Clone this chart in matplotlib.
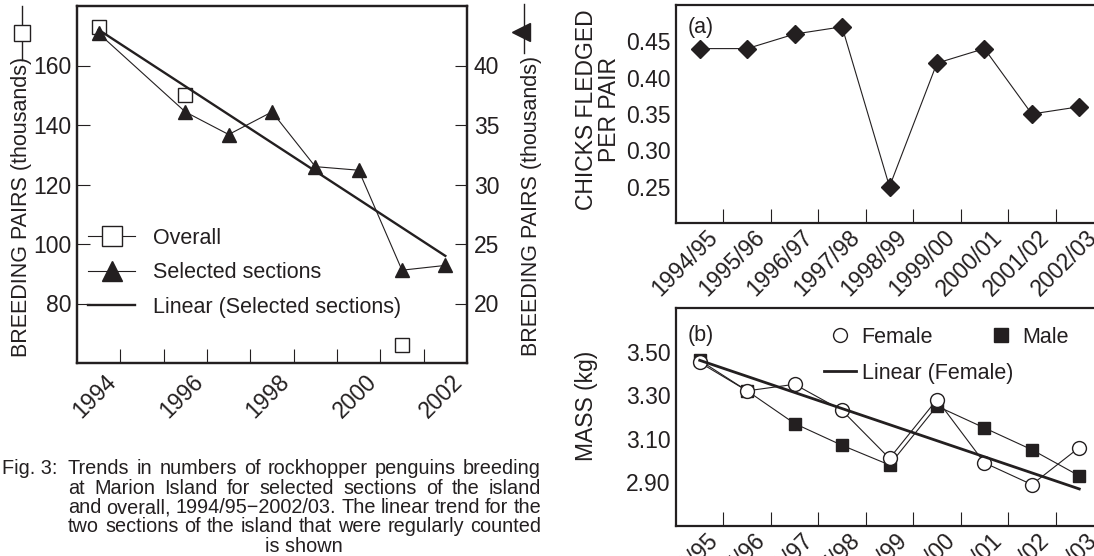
import numpy as np
import matplotlib
matplotlib.use('Agg')
import matplotlib.pyplot as plt
import matplotlib.transforms as mtransforms
from matplotlib.lines import Line2D

# Fonts - Liberation Sans is the closest thing to the Helvetica in the print
plt.rcParams['font.family'] = ['Liberation Sans', 'DejaVu Sans']
plt.rcParams['font.size'] = 16.5
ink = '#231f20'
plt.rcParams['text.color'] = ink
plt.rcParams['axes.edgecolor'] = ink
plt.rcParams['xtick.color'] = ink
plt.rcParams['ytick.color'] = ink

# Fig. 3 data (breeding pairs)
years = [1994, 1995, 1996, 1997, 1998, 1999, 2000, 2001, 2002]
year_labels = ['1994', '', '1996', '', '1998', '', '2000', '', '2002']
overall_years = [1994, 1996, 2001]
overall_pairs = [173, 150, 66]
selected_years = [1994, 1996, 1997, 1998, 1999, 2000, 2001, 2002]
selected_pairs = [42.7, 36.1, 34.2, 36.1, 31.5, 31.2, 22.8, 23.2]
selected_trend = [43.0, 24.0]

# (a) and (b) data
seasons = ['1994/95', '1995/96', '1996/97', '1997/98', '1998/99',
           '1999/00', '2000/01', '2001/02', '2002/03']
chicks = [0.44, 0.44, 0.46, 0.47, 0.25, 0.42, 0.44, 0.35, 0.36]
female_mass = [3.45, 3.32, 3.35, 3.23, 3.01, 3.28, 2.99, 2.89, 3.06]
male_mass = [3.46, 3.32, 3.17, 3.07, 2.98, 3.25, 3.15, 3.05, 2.93]
female_trend = [3.46, 2.87]

W, H = 1094, 556
fig = plt.figure(figsize=(W / 100, H / 100), dpi=100)


def box(x0, y_top, x1, y_bot):
    # pixel box -> figure fraction rect
    return [x0 / W, 1 - y_bot / H, (x1 - x0) / W, (y_bot - y_top) / H]


def shift_labels(ax, dx, dy=0):
    off = mtransforms.ScaledTranslation(dx / 100, dy / 100, fig.dpi_scale_trans)
    for lab in ax.get_xticklabels():
        lab.set_transform(lab.get_transform() + off)


# ---------------- left chart ----------------
ax = fig.add_axes(box(77, 6, 467, 363))
ax2 = ax.twinx()

h_over, = ax.plot(overall_years, overall_pairs, color=ink, lw=0.8, marker='s',
                  ms=10, mfc='white', mec=ink, mew=1.0, linestyle='none')
h_sel, = ax2.plot(selected_years, selected_pairs, color=ink, lw=0.8, marker='^',
                  ms=10, mfc=ink, mec=ink)
h_lin, = ax2.plot([selected_years[0], selected_years[-1]], selected_trend,
                  color=ink, lw=1.7)

ax.set_xlim(1993.5, 2002.5)
ax.set_ylim(60, 180)
ax2.set_ylim(15, 45)
ax.set_yticks([80, 100, 120, 140, 160])
ax2.set_yticks([20, 25, 30, 35, 40])
ax.set_xticks(years)
ax.set_xticklabels(year_labels, rotation=45, ha='right', rotation_mode='anchor')
ax.set_xticks([y + 0.5 for y in years[:-1]], minor=True)
ax.tick_params(axis='x', which='major', length=0, pad=5)
ax.tick_params(axis='x', which='minor', direction='in', length=10, width=0.8)
ax.tick_params(axis='y', direction='in', length=9, width=0.8, pad=4)
ax2.tick_params(axis='y', direction='in', length=9, width=0.8, pad=5)
for a in (ax, ax2):
    for s in a.spines.values():
        s.set_linewidth(1.6)
shift_labels(ax, 6)

# legend rows (the overall series has a connecting line in the key)
k_over = Line2D([], [], color=ink, lw=0.8, marker='s', ms=15, mfc='white', mec=ink)
k_sel = Line2D([], [], color=ink, lw=0.8, marker='^', ms=15, mfc=ink, mec=ink)
ax2.legend([k_over, k_sel, h_lin],
           ['Overall', 'Selected sections', 'Linear (Selected sections)'],
           loc='upper left', bbox_to_anchor=(88 / W, 1 - 228 / H),
           bbox_transform=fig.transFigure, frameon=False, handlelength=2.2,
           handletextpad=0.8, labelspacing=0.62, borderpad=0, borderaxespad=0,
           fontsize=15.5)

# axis titles with their little keys on top
fig.text(22 / W, 1 - 207 / H, 'BREEDING PAIRS (thousands)', rotation=90,
         ha='center', va='center', fontsize=15.5)
fig.add_artist(Line2D([22 / W, 22 / W], [1 - 6 / H, 1 - 60 / H], color=ink, lw=1.0))
fig.add_artist(Line2D([22 / W], [1 - 33 / H], marker='s', ms=11, mfc='white',
                      mec=ink, mew=1.0))
fig.text(531 / W, 1 - 206 / H, 'BREEDING PAIRS (thousands)', rotation=90,
         ha='center', va='center', fontsize=15.5)
fig.add_artist(Line2D([524 / W, 524 / W], [1 - 4 / H, 1 - 53 / H], color=ink, lw=1.0))
fig.add_artist(Line2D([521 / W], [1 - 32 / H], marker='<', ms=13, mfc=ink, mec=ink))

# caption, justified between x=68 and x=541 like the printed one
cap_lines = ['Trends in numbers of rockhopper penguins breeding',
             'at Marion Island for selected sections of the island',
             'and overall, 1994/95\u22122002/03. The linear trend for the',
             'two sections of the island that were regularly counted',
             'is shown']
cap_size = 14.3
fig.text(2 / W, 1 - 469 / H, 'Fig. 3:', ha='left', va='center', fontsize=cap_size)
renderer = fig.canvas.get_renderer()
for i, line in enumerate(cap_lines):
    y = 1 - (469 + 19.3 * i) / H
    if i == len(cap_lines) - 1:
        fig.text(304 / W, y, line, ha='center', va='center', fontsize=cap_size)
        continue
    words = [fig.text(0, y, w, ha='left', va='center', fontsize=cap_size)
             for w in line.split()]
    widths = [t.get_window_extent(renderer).width for t in words]
    gap = (541 - 68 - sum(widths)) / (len(words) - 1)
    x = 68
    for t, w in zip(words, widths):
        t.set_x(x / W)
        x += w + gap

# ---------------- (a) chicks fledged ----------------
xs = np.arange(len(seasons))
axa = fig.add_axes(box(676, 5, 1103, 223))
axa.plot(xs, chicks, color=ink, lw=0.8, marker='D', ms=9, mfc=ink, mec=ink)
axa.set_xlim(-0.5, 8.5)
axa.set_ylim(0.20, 0.50)
axa.set_yticks([0.25, 0.30, 0.35, 0.40, 0.45])
axa.set_yticklabels(['0.25', '0.30', '0.35', '0.40', '0.45'])
fig.text(688 / W, 1 - 28 / H, '(a)', ha='left', va='center', fontsize=15.5)
fig.text(598 / W, 1 - 110 / H, 'CHICKS FLEDGED\nPER PAIR', rotation=90,
         ha='center', va='center', multialignment='center', fontsize=16.5,
         linespacing=1.05)

# ---------------- (b) mass ----------------
axb = fig.add_axes(box(676, 308, 1103, 526))
axb.plot(xs, male_mass, color=ink, lw=0.8, marker='s', ms=9, mfc=ink, mec=ink)
axb.plot(xs, female_mass, color=ink, lw=0.8, marker='o', ms=10, mfc='white',
         mec=ink, mew=1.0)
axb.plot([xs[0], xs[-1]], female_trend, color=ink, lw=2.0)
axb.set_xlim(-0.5, 8.5)
axb.set_ylim(2.70, 3.70)
axb.set_yticks([2.90, 3.10, 3.30, 3.50])
axb.set_yticklabels(['2.90', '3.10', '3.30', '3.50'])
fig.text(688 / W, 1 - 336 / H, '(b)', ha='left', va='center', fontsize=15.5)
fig.text(586 / W, 1 - 406 / H, 'MASS (kg)', rotation=90, ha='center',
         va='center', fontsize=16.5)

k_f = Line2D([], [], linestyle='none', marker='o', ms=10, mfc='white', mec=ink)
k_m = Line2D([], [], linestyle='none', marker='s', ms=10, mfc=ink, mec=ink)
k_l = Line2D([], [], color=ink, lw=2.0)
leg_b = axb.legend([k_f, k_m], ['Female', 'Male'], ncol=2, loc='upper left',
                   bbox_to_anchor=(824 / W, 1 - 327 / H),
                   bbox_transform=fig.transFigure, frameon=False,
                   handlelength=1.5, handletextpad=0.25, columnspacing=2.4,
                   borderpad=0, borderaxespad=0, fontsize=15.5)
axb.add_artist(leg_b)
axb.legend([k_l], ['Linear (Female)'], loc='upper left',
           bbox_to_anchor=(824 / W, 1 - 363 / H), bbox_transform=fig.transFigure,
           frameon=False, handlelength=1.5, handletextpad=0.25, borderpad=0,
           borderaxespad=0, fontsize=15.5)

for a in (axa, axb):
    a.set_xticks(xs)
    a.set_xticklabels(seasons, rotation=45, ha='right', rotation_mode='anchor')
    a.set_xticks(xs[:-1] + 0.5, minor=True)
    a.tick_params(axis='x', which='major', length=0, pad=2)
    a.tick_params(axis='x', which='minor', direction='in', length=10, width=0.8)
    a.tick_params(axis='y', length=0, pad=4)
    for s in a.spines.values():
        s.set_linewidth(1.6)
    shift_labels(a, 6)

fig.savefig('out.png', dpi=100)
